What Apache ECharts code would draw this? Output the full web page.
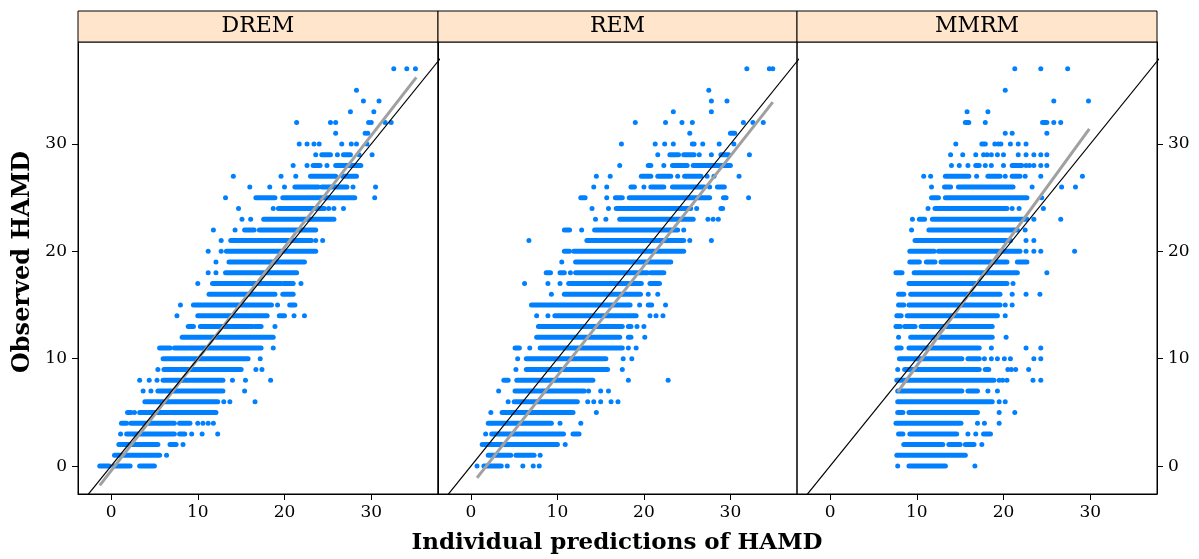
<!DOCTYPE html>
<html>
<head>
<meta charset="utf-8">
<script src="https://cdn.jsdelivr.net/npm/echarts@6/dist/echarts.min.js"></script>
<style>
    html, body { margin: 0; padding: 0; background: #fff; }
    #chart { width: 1199px; height: 559px; }
</style>
</head>
<body>
<div id="chart"></div>
<script>
const panels = ['DREM', 'REM', 'MMRM'];
const xTicks = [0, 10, 20, 30];
const yTicks = [0, 10, 20, 30];

// rows where the points overlap into one bar: [observed, fromPred, toPred]
const dremRuns = [
    [29, 24.3, 25.3], [29, 26.8, 27.6],
    [28, 23.3, 24.1], [28, 25.9, 28.8],
    [27, 23.0, 25.9], [27, 26.7, 28.3],
    [26, 21.2, 23.9], [26, 24.3, 27.2],
    [25, 16.7, 18.9], [25, 19.8, 28.1],
    [24, 19.3, 24.6],
    [23, 17.6, 25.7],
    [22, 15.4, 16.5], [22, 17.1, 23.6],
    [21, 13.8, 23.1],
    [20, 13.3, 23.6],
    [19, 13.6, 22.3],
    [18, 13.2, 21.4],
    [17, 11.7, 19.6], [17, 19.9, 21.0],
    [16, 11.3, 18.9], [16, 19.8, 21.0],
    [15, 9.5, 18.5], [15, 20.6, 21.2],
    [14, 10.0, 18.0], [14, 19.4, 20.0],
    [13, 8.9, 9.5], [13, 10.3, 16.3], [13, 16.6, 17.3],
    [12, 8.2, 18.7],
    [11, 5.6, 6.8], [11, 7.3, 17.3],
    [10, 6.0, 15.8],
    [9, 6.1, 15.0],
    [8, 6.0, 12.9],
    [7, 5.4, 12.9],
    [6, 3.9, 12.3],
    [5, 1.9, 2.3], [5, 3.3, 12.1],
    [4, 1.2, 1.8], [4, 2.3, 7.3], [4, 7.9, 9.1],
    [3, 1.8, 7.3], [3, 7.9, 8.5],
    [2, 0.9, 5.4], [2, 6.8, 7.5],
    [1, 0.4, 5.6],
    [0, -1.3, -0.2], [0, 0.4, 2.2], [0, 3.3, 5.0]
];
// single points: [pred, observed]
const dremDots = [
    [32.6, 37], [34.1, 37], [35.1, 37],
    [28.3, 35],
    [29.1, 34], [30.9, 34],
    [27.6, 33], [30.3, 33],
    [21.4, 32], [25.3, 32], [25.9, 32], [29.7, 32], [30.0, 32], [31.6, 32], [32.3, 32],
    [25.9, 31], [29.3, 31], [29.6, 31],
    [21.7, 30], [22.6, 30], [23.4, 30], [24.0, 30], [26.6, 30], [27.7, 30], [28.3, 30], [29.5, 30],
    [23.6, 29], [26.1, 29], [28.6, 29], [30.1, 29],
    [21.0, 28], [22.6, 28], [24.9, 28],
    [14.1, 27], [19.6, 27], [21.3, 27],
    [16.0, 26], [18.3, 26], [20.0, 26], [27.9, 26], [30.5, 26],
    [13.2, 25], [30.4, 25],
    [14.7, 24], [18.7, 24], [25.1, 24], [25.7, 24], [26.8, 24],
    [15.1, 23], [16.1, 23],
    [11.8, 22], [14.3, 22],
    [12.7, 21], [23.6, 21], [24.4, 21],
    [11.2, 20], [12.7, 20],
    [12.1, 19],
    [11.2, 18], [12.1, 18],
    [10.0, 17], [21.9, 17],
    [8.0, 15], [19.2, 15],
    [7.6, 14], [21.1, 14], [22.3, 14],
    [18.9, 13],
    [18.7, 11],
    [17.2, 10],
    [5.4, 9], [16.7, 9], [17.4, 9],
    [3.3, 8], [4.4, 8], [5.3, 8], [14.0, 8], [15.5, 8], [18.4, 8],
    [3.7, 7], [4.6, 7], [15.4, 7],
    [13.0, 6], [13.7, 6], [16.6, 6],
    [2.7, 5],
    [10.0, 4], [10.6, 4], [11.2, 4], [11.8, 4],
    [1.1, 3], [9.3, 3], [10.5, 3], [12.3, 3],
    [8.3, 2],
    [6.4, 1]
];

const remRuns = [
    [31, 30.0, 30.5],
    [29, 23.0, 24.0], [29, 24.6, 25.8], [29, 28.9, 29.8],
    [28, 20.5, 20.8], [28, 23.3, 25.0], [28, 25.7, 30.0],
    [27, 19.7, 20.8], [27, 21.6, 23.1], [27, 24.7, 26.6],
    [26, 18.5, 18.9], [26, 20.8, 22.3], [26, 23.3, 27.0], [26, 28.5, 29.3],
    [25, 12.7, 13.2], [25, 16.7, 17.5], [25, 18.3, 27.6], [25, 29.2, 29.5],
    [24, 16.8, 25.4], [24, 28.9, 29.1],
    [23, 17.2, 25.7],
    [22, 10.8, 11.4], [22, 14.3, 23.9],
    [21, 13.4, 24.6],
    [20, 10.8, 11.4], [20, 11.9, 24.6],
    [19, 12.1, 23.1],
    [18, 8.7, 9.2], [18, 10.3, 10.8], [18, 12.1, 20.4], [18, 20.8, 22.3],
    [17, 11.3, 19.7], [17, 20.7, 21.8],
    [16, 10.8, 19.6],
    [15, 7.0, 18.4], [15, 20.5, 20.9],
    [14, 9.7, 19.1],
    [13, 7.8, 17.5], [13, 18.2, 18.5],
    [12, 7.6, 17.2], [12, 18.2, 18.5],
    [11, 5.1, 5.6], [11, 8.0, 17.5],
    [10, 6.4, 15.6],
    [9, 6.4, 15.8],
    [8, 3.8, 4.3], [8, 5.3, 14.1],
    [7, 5.1, 13.1],
    [6, 5.0, 12.3],
    [5, 3.6, 11.8],
    [4, 2.0, 9.3],
    [3, 2.4, 10.7], [3, 11.8, 12.5],
    [2, 1.3, 10.0],
    [1, 2.0, 4.6], [1, 5.2, 7.3],
    [0, 1.5, 3.5]
];
const remDots = [
    [31.9, 37], [34.5, 37], [34.9, 37],
    [27.5, 35],
    [27.8, 34], [29.6, 34],
    [23.4, 33], [27.8, 33],
    [19.0, 32], [22.5, 32], [24.4, 32], [25.6, 32], [31.5, 32], [32.6, 32], [33.8, 32],
    [25.3, 31],
    [17.4, 30], [21.3, 30], [22.4, 30], [23.4, 30], [25.6, 30], [25.8, 30], [26.8, 30], [28.7, 30], [30.4, 30],
    [21.6, 29], [26.4, 29], [27.8, 29], [32.2, 29],
    [17.2, 28], [22.3, 28],
    [14.5, 27], [16.1, 27], [23.9, 27], [27.3, 27], [28.1, 27], [31.0, 27],
    [14.2, 26], [15.7, 26], [20.0, 26], [27.6, 26],
    [15.7, 25], [32.1, 25],
    [14.0, 24], [15.9, 24], [26.1, 24],
    [14.4, 23], [15.6, 23], [27.4, 23], [28.0, 23], [28.6, 23],
    [12.8, 22], [24.6, 22],
    [6.7, 21], [25.3, 21], [27.8, 21],
    [10.5, 19],
    [11.5, 18],
    [6.2, 17], [8.9, 17], [10.3, 17],
    [9.3, 16], [20.5, 16], [21.6, 16],
    [19.5, 15], [22.5, 15],
    [7.6, 14], [8.9, 14], [20.7, 14], [21.4, 14], [22.2, 14],
    [19.2, 13], [20.0, 13],
    [20.1, 12],
    [6.8, 11], [18.2, 11], [19.1, 11],
    [5.4, 10], [17.6, 10], [18.6, 10],
    [5.2, 9], [17.5, 9],
    [18.2, 8], [22.8, 8],
    [3.2, 7], [13.6, 7], [15.0, 7], [15.9, 7],
    [4.3, 6], [13.5, 6], [14.2, 6], [15.0, 6], [16.2, 6], [17.0, 6],
    [2.3, 5], [14.5, 5],
    [10.3, 4], [12.7, 4],
    [1.7, 3],
    [10.9, 2],
    [8.0, 1],
    [0.7, 0], [4.2, 0], [6.0, 0], [7.2, 0], [7.9, 0]
];

const mmrmRuns = [
    [32, 15.6, 16.0], [32, 24.5, 25.0],
    [30, 17.5, 17.9],
    [28, 16.8, 17.2], [28, 21.0, 22.1],
    [27, 13.3, 16.0], [27, 18.2, 19.6], [27, 21.0, 21.9],
    [26, 13.2, 13.9], [26, 14.8, 21.1],
    [25, 11.7, 12.5], [25, 13.3, 22.7],
    [24, 12.1, 20.4],
    [23, 10.3, 10.9], [23, 11.8, 22.7],
    [22, 11.4, 21.6],
    [21, 9.8, 20.8],
    [20, 9.2, 12.0], [20, 12.5, 21.9],
    [19, 9.2, 10.3], [19, 11.1, 12.1], [19, 12.8, 20.4], [19, 21.6, 22.7],
    [18, 7.6, 8.3], [18, 9.7, 21.6],
    [17, 9.1, 20.4],
    [16, 7.9, 8.5], [16, 9.3, 19.6],
    [15, 7.9, 8.5], [15, 9.1, 19.6],
    [14, 7.7, 8.2], [14, 8.9, 19.3],
    [13, 7.6, 8.1], [13, 8.6, 9.8], [13, 10.5, 18.7],
    [12, 9.3, 18.7],
    [11, 7.7, 8.2], [11, 9.1, 17.2],
    [10, 8.0, 15.2], [10, 15.9, 17.2],
    [9, 8.6, 17.2], [9, 17.9, 18.3],
    [8, 7.7, 18.9],
    [7, 7.8, 15.2], [7, 15.9, 17.0],
    [6, 7.8, 18.7],
    [5, 7.8, 8.4], [5, 9.1, 17.0],
    [4, 7.6, 15.1],
    [3, 7.9, 8.4], [3, 9.2, 14.6], [3, 17.7, 18.5],
    [2, 8.5, 13.0], [2, 13.7, 15.0], [2, 15.6, 16.6],
    [1, 7.7, 15.6],
    [0, 9.1, 13.3]
];
const mmrmDots = [
    [21.3, 37], [24.3, 37], [27.4, 37],
    [20.2, 35],
    [25.8, 34], [29.8, 34],
    [15.8, 33], [18.2, 33],
    [17.9, 32], [25.8, 32], [26.6, 32],
    [20.2, 31], [21.0, 31], [25.0, 31],
    [14.5, 30], [19.0, 30], [19.4, 30], [19.7, 30], [20.8, 30], [21.7, 30], [22.6, 30],
    [13.9, 29], [15.3, 29], [16.8, 29], [17.7, 29], [18.1, 29], [18.6, 29], [19.3, 29], [20.0, 29],
    [21.7, 29], [22.6, 29], [23.5, 29], [24.3, 29], [25.0, 29],
    [14.0, 28], [14.9, 28], [15.9, 28], [17.9, 28], [18.6, 28], [20.0, 28], [22.6, 28], [23.0, 28],
    [23.5, 28], [24.3, 28], [25.0, 28],
    [10.8, 27], [11.6, 27], [16.9, 27], [20.2, 27], [22.5, 27], [24.3, 27], [29.1, 27],
    [11.7, 26], [23.3, 26], [26.7, 26], [28.3, 26],
    [24.4, 25],
    [11.3, 24], [21.0, 24], [21.8, 24], [24.6, 24],
    [9.5, 23], [23.5, 23], [26.6, 23],
    [9.4, 22], [22.5, 22],
    [22.6, 21], [23.5, 21],
    [22.6, 20], [23.5, 20], [24.3, 20], [28.2, 20],
    [25.0, 18],
    [21.1, 17],
    [21.0, 16], [22.6, 16], [24.2, 16],
    [20.2, 15], [21.0, 15],
    [20.2, 14],
    [7.9, 12], [20.3, 12],
    [18.6, 11], [22.6, 11], [24.3, 11],
    [17.8, 10], [18.6, 10], [19.3, 10], [20.1, 10], [20.8, 10], [23.5, 10], [24.3, 10],
    [7.8, 9], [20.5, 9], [20.9, 9], [21.4, 9], [22.9, 9],
    [19.5, 8], [19.9, 8], [20.4, 8], [23.4, 8], [24.3, 8],
    [18.2, 7], [19.3, 7],
    [19.5, 6], [20.2, 6],
    [19.5, 5], [21.3, 5],
    [17.0, 4], [17.8, 4], [19.5, 4],
    [15.9, 3], [16.8, 3],
    [17.5, 2],
    [7.8, 0], [16.7, 0]
];

const dremFit = [[-1.3, -1.8], [35.2, 36.2]];
const remFit = [[0.7, -1.1], [34.9, 33.9]];
const mmrmFit = [[7.8, 6.9], [29.9, 31.4]];

const runsByPanel = [dremRuns, remRuns, mmrmRuns];
const dotsByPanel = [dremDots, remDots, mmrmDots];
const fitByPanel = [dremFit, remFit, mmrmFit];

const font = 'DejaVu Serif';
const blue = '#0080ff';
const lefts = [78, 438, 797];
const widths = [360, 359, 360];
const gridTop = 42;
const gridHeight = 452;
const stripTop = 11;

const renderRun = (params, api) => {
    const a = api.coord([api.value(1), api.value(0)]);
    const b = api.coord([api.value(2), api.value(0)]);
    return {
        type: 'rect',
        shape: { x: a[0] - 2.5, y: a[1] - 2.5, width: b[0] - a[0] + 5, height: 5, r: 2.5 },
        style: { fill: blue }
    };
};

const option = {
    animation: false,
    backgroundColor: '#fff',
    grid: panels.map((p, i) => ({
        left: lefts[i],
        top: gridTop,
        width: widths[i],
        height: gridHeight,
        show: true,
        borderColor: '#000',
        borderWidth: 1,
        backgroundColor: 'transparent'
    })),
    xAxis: panels.map((p, i) => ({
        type: 'value',
        gridIndex: i,
        min: -3.81,
        max: 37.7,
        axisLine: { show: true, onZero: false, lineStyle: { color: '#000' } },
        splitLine: { show: false },
        axisTick: { customValues: xTicks, length: 6, lineStyle: { color: '#000' } },
        axisLabel: { customValues: xTicks, margin: 10, color: '#000', fontFamily: font, fontSize: 17 }
    })),
    yAxis: panels.map((p, i) => ({
        type: 'value',
        gridIndex: i,
        min: -2.6,
        max: 39.5,
        position: i === 2 ? 'right' : 'left',
        axisLine: { show: true, onZero: false, lineStyle: { color: '#000' } },
        splitLine: { show: false },
        axisTick: { show: i !== 1, customValues: yTicks, length: 6, lineStyle: { color: '#000' } },
        axisLabel: { show: i !== 1, customValues: yTicks, margin: 11, color: '#000', fontFamily: font, fontSize: 17 }
    })),
    graphic: [
        ...panels.flatMap((p, i) => [
            {
                type: 'rect',
                shape: { x: lefts[i], y: stripTop, width: widths[i], height: gridTop - stripTop },
                style: { fill: '#ffe5cc', stroke: '#000', lineWidth: 1 }
            },
            {
                type: 'text',
                x: lefts[i] + widths[i] / 2,
                y: (stripTop + gridTop) / 2,
                style: { text: p, fill: '#000', font: `22px "${font}"`, align: 'center', verticalAlign: 'middle' }
            }
        ]),
        {
            type: 'text',
            x: 617,
            y: 543,
            style: { text: 'Individual predictions of HAMD', fill: '#000', font: `bold 23px "${font}"`, align: 'center', verticalAlign: 'middle' }
        },
        {
            type: 'text',
            x: 23,
            y: 262,
            rotation: Math.PI / 2,
            style: { text: 'Observed HAMD', fill: '#000', font: `bold 24px "${font}"`, align: 'center', verticalAlign: 'middle' }
        }
    ],
    series: panels.flatMap((p, i) => [
        {
            type: 'custom',
            xAxisIndex: i,
            yAxisIndex: i,
            renderItem: renderRun,
            encode: { x: [1, 2], y: 0 },
            data: runsByPanel[i],
            clip: true,
            z: 2
        },
        {
            type: 'scatter',
            xAxisIndex: i,
            yAxisIndex: i,
            symbolSize: 5,
            itemStyle: { color: blue, opacity: 1 },
            data: dotsByPanel[i],
            z: 2
        },
        {
            type: 'line',
            xAxisIndex: i,
            yAxisIndex: i,
            showSymbol: false,
            symbol: 'none',
            lineStyle: { color: '#a0a0a0', width: 3 },
            data: fitByPanel[i],
            z: 3
        },
        {
            type: 'line',
            xAxisIndex: i,
            yAxisIndex: i,
            symbol: 'none',
            clip: true,
            lineStyle: { color: '#000', width: 1.2 },
            data: [[-10, -10], [50, 50]],
            z: 4
        }
    ])
};

const chart = echarts.init(document.getElementById('chart'));
chart.setOption(option);
</script>
</body>
</html>
